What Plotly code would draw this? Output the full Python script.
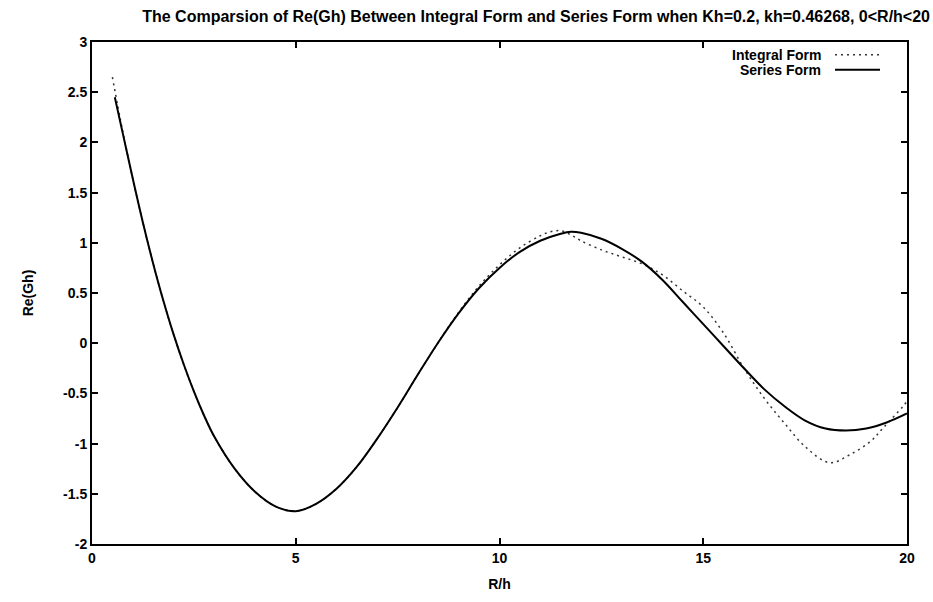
import plotly.graph_objects as go

# Series Form (solid)
series_x = [0.56, 0.75, 1.0, 1.25, 1.5, 1.75, 2.0, 2.25, 2.5, 2.75, 3.0, 3.5, 4.0, 4.5,
            5.0, 5.5, 6.0, 6.5, 7.0, 7.5, 8.0, 8.5, 9.0, 9.5, 10.0, 10.5, 11.0, 11.5, 11.75,
            12.0, 12.5, 13.0, 13.5, 14.0, 14.5, 15.0, 15.5, 16.0, 16.5, 17.0, 17.5, 18.0,
            18.5, 19.0, 19.5, 20.0]
series_y = [2.45, 2.1, 1.64, 1.20, 0.795, 0.425, 0.09, -0.21, -0.48, -0.72, -0.93, -1.25, -1.48, -1.625,
            -1.673, -1.60, -1.45, -1.23, -0.95, -0.64, -0.31, 0.01, 0.30, 0.55, 0.75, 0.91, 1.02, 1.09, 1.11,
            1.10, 1.04, 0.94, 0.81, 0.63, 0.41, 0.19, -0.03, -0.25, -0.46, -0.63, -0.77, -0.85,
            -0.87, -0.85, -0.79, -0.70]

# Integral Form (dotted)
integral_x = [0.5, 0.75, 1.0, 1.25, 1.5, 1.75, 2.0, 2.25, 2.5, 2.75, 3.0, 3.5, 4.0, 4.5,
              5.0, 5.5, 6.0, 6.5, 7.0, 7.5, 8.0, 8.5, 9.0, 9.5, 10.0, 10.5, 11.0, 11.25, 11.5,
              11.75, 12.0, 12.5, 13.0, 13.5, 14.0, 14.5, 15.0, 15.5, 16.0, 16.5, 17.0, 17.5,
              18.1, 18.6, 19.1, 19.4, 19.9, 20.0]
integral_y = [2.65, 2.12, 1.64, 1.20, 0.795, 0.425, 0.09, -0.21, -0.48, -0.72, -0.93, -1.25, -1.48, -1.625,
              -1.673, -1.60, -1.45, -1.23, -0.95, -0.64, -0.31, 0.01, 0.31, 0.57, 0.78, 0.95, 1.07, 1.11, 1.12,
              1.08, 1.02, 0.93, 0.86, 0.79, 0.68, 0.52, 0.36, 0.1, -0.25, -0.55, -0.80, -1.03,
              -1.19, -1.11, -0.98, -0.85, -0.63, -0.58]

x_ticks = [0, 5, 10, 15, 20]
y_ticks = [-2, -1.5, -1, -0.5, 0, 0.5, 1, 1.5, 2, 2.5, 3]

title_text = "The Comparsion of Re(Gh) Between Integral Form and Series Form when Kh=0.2, kh=0.46268, 0<R/h<20"
x_title = "R/h"
y_title = "Re(Gh)"
legend_names = ["Integral Form", "Series Form"]

W, H = 933, 602
L, R, T, B = 92, 26, 42, 53
FONT = "Liberation Sans"

fig = go.Figure()
fig.add_trace(go.Scatter(x=integral_x, y=integral_y, mode="lines", name=legend_names[0],
                         line=dict(color="#333333", width=1.5, dash="2px,4px", shape="spline"),
                         showlegend=False))
fig.add_trace(go.Scatter(x=series_x, y=series_y, mode="lines", name=legend_names[1],
                         line=dict(color="black", width=2, shape="spline"),
                         showlegend=False))

# legend drawn gnuplot style: text right-aligned, sample on right
pw = W - L - R
ph = H - T - B
def px_to_paper_x(px):
    return (px - L) / pw
def py_to_paper_y(py):
    return 1 - (py - T) / ph

for i, (name, dash, wid, col) in enumerate(zip(legend_names, ["2px,4px", "solid"], [1.5, 2], ["#333333", "black"])):
    ypx = 55 + i * 15
    fig.add_annotation(x=px_to_paper_x(823), y=py_to_paper_y(ypx), xref="paper", yref="paper",
                       text="<b>" + name + "</b>", showarrow=False, xanchor="right", yanchor="middle",
                       font=dict(family=FONT, size=14, color="black"))
    fig.add_shape(type="line", xref="paper", yref="paper",
                  x0=px_to_paper_x(835), x1=px_to_paper_x(880),
                  y0=py_to_paper_y(ypx), y1=py_to_paper_y(ypx),
                  line=dict(color=col, width=wid, dash=dash))

axis_common = dict(showline=True, linecolor="black", linewidth=2, mirror="ticks",
                   ticks="inside", ticklen=6, tickwidth=2, tickcolor="black",
                   showgrid=False, zeroline=False,
                   tickfont=dict(family=FONT, size=14, color="black"))

fig.update_layout(
    width=W, height=H,
    margin=dict(l=L, r=R, t=T, b=B),
    plot_bgcolor="white", paper_bgcolor="white",
    title=dict(text="<b>" + title_text + "</b>", x=930 / W, xanchor="right", xref="container",
               y=1 - 16 / H, yanchor="middle", yref="container",
               font=dict(family=FONT, size=16, color="black")),
    xaxis=dict(range=[0, 20], tickvals=x_ticks, ticktext=[f"<b>{v}</b>" for v in x_ticks],
               title=dict(text="<b>" + x_title + "</b>", standoff=14,
                          font=dict(family=FONT, size=14, color="black")),
               **axis_common),
    yaxis=dict(range=[-2, 3], tickvals=y_ticks, ticktext=[f"<b>{v:g}</b>" for v in y_ticks],
               title=dict(text="<b>" + y_title + "</b>", standoff=26,
                          font=dict(family=FONT, size=14, color="black")),
               **axis_common),
)

fig.write_html("out.html")
